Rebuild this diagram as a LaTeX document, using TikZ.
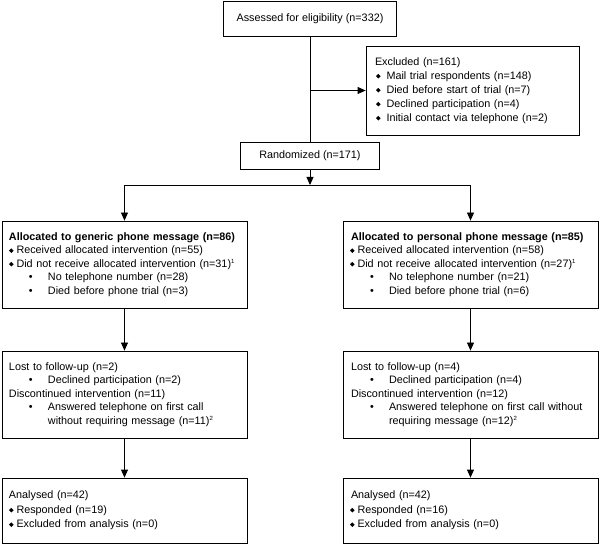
\documentclass[tikz,border=0pt]{standalone}
\usepackage{fontspec}
\setmainfont{Liberation Sans}
\usepackage{graphicx}
\usetikzlibrary{arrows.meta}

% list marks used inside the boxes
\newcommand{\dia}{\raisebox{0.8pt}{\rotatebox{45}{\rule{3.2pt}{3.2pt}}}\hspace{3pt}}
\newcommand{\bul}{\hspace*{20pt}\makebox[19pt][l]{•}}
\newcommand{\cont}{\hspace*{39pt}}
\newcommand{\fnm}[1]{\raisebox{4pt}{\fontsize{6}{6}\selectfont #1}}

\tikzset{
  box/.style={draw, line width=0.8pt, inner xsep=7pt, inner ysep=2pt,
    font=\fontsize{10.8}{13.5}\selectfont},
  lbox/.style={box, align=left, text width=#1},
  >={Triangle[length=8pt, width=7pt]},
  link/.style={line width=0.8pt}
}

\begin{document}
\begin{tikzpicture}[x=1pt, y=-1pt]
	\useasboundingbox (0,0) rectangle (600,545);

	% Enrolment
	\node[box, minimum width=173pt, minimum height=35pt] (assess) at (310, 18.5)
		{Assessed for eligibility (n=332)};
	\node[lbox=199pt, minimum height=89pt] (excl) at (472.5, 90.5)
		{\hspace*{2pt}Excluded (n=161)\\[0.5pt]
		\hspace*{3pt}\dia\hspace{3pt}Mail trial respondents (n=148)\\[0.5pt]
		\hspace*{3pt}\dia\hspace{3pt}Died before start of trial (n=7)\\[0.5pt]
		\hspace*{3pt}\dia\hspace{3pt}Declined participation (n=4)\\[0.5pt]
		\hspace*{3pt}\dia\hspace{3pt}Initial contact via telephone (n=2)};
	\node[box, minimum width=139pt, minimum height=27pt] (rand) at (310, 155.5)
		{Randomized (n=171)};
	\coordinate (split) at (310, 185);

	% Allocation
	\node[lbox=231pt, minimum height=87pt] (allocG) at (124.5, 264.5)
		{\textbf{Allocated to generic phone message (n=86)}\\
		\dia Received allocated intervention (n=55)\\
		\dia Did not receive allocated intervention (n=31)\fnm{1}\\
		\bul No telephone number (n=28)\\
		\bul Died before phone trial (n=3)};
	\node[lbox=241pt, minimum height=87pt] (allocP) at (470.5, 264.5)
		{\hspace*{1pt}\textbf{Allocated to personal phone message (n=85)}\\
		\dia Received allocated intervention (n=58)\\
		\dia Did not receive allocated intervention (n=27)\fnm{1}\\
		\bul No telephone number (n=21)\\
		\bul Died before phone trial (n=6)};

	% Follow-up
	\node[lbox=231pt, minimum height=87pt] (lostG) at (124.5, 394.5)
		{Lost to follow-up (n=2)\\
		\bul Declined participation (n=2)\\
		Discontinued intervention (n=11)\\
		\bul Answered telephone on first call\\
		\cont without requiring message (n=11)\fnm{2}};
	\node[lbox=241pt, minimum height=87pt] (lostP) at (470.5, 394.5)
		{\hspace*{1pt}Lost to follow-up (n=4)\\
		\bul Declined participation (n=4)\\
		\hspace*{1pt}Discontinued intervention (n=12)\\
		\bul Answered telephone on first call without\\
		\cont requiring message (n=12)\fnm{2}};

	% Analysis
	\node[lbox=231pt, minimum height=65pt] (anaG) at (124.5, 510.5)
		{Analysed (n=42)\\[1pt]
		\dia Responded (n=19)\\[1pt]
		\dia Excluded from analysis (n=0)};
	\node[lbox=241pt, minimum height=65pt] (anaP) at (470.5, 510.5)
		{\hspace*{1pt}Analysed (n=42)\\[1pt]
		\dia Responded (n=16)\\[1pt]
		\dia Excluded from analysis (n=0)};

	% Connectors
	\draw[link] (assess) -- (rand);
	\draw[link, ->] (assess.south |- excl.west) -- (excl.west);
	\draw[link, ->] (rand) -- (split);
	\draw[link, ->] (split) -| (allocG);
	\draw[link, ->] (split) -| (allocP);
	\draw[link, ->] (allocG) -- (lostG);
	\draw[link, ->] (allocP) -- (lostP);
	\draw[link, ->] (lostG) -- (anaG);
	\draw[link, ->] (lostP) -- (anaP);
\end{tikzpicture}
\end{document}
